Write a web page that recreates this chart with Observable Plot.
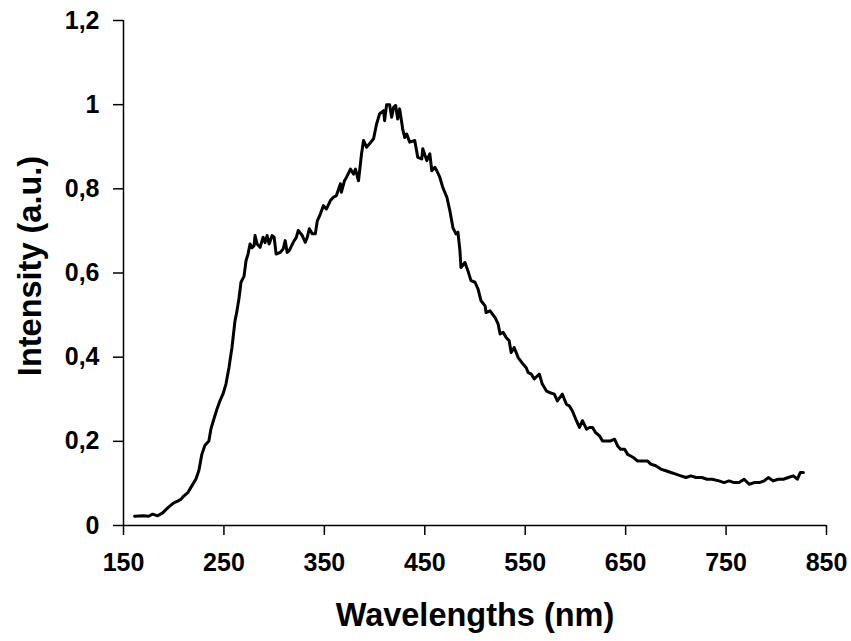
<!DOCTYPE html>
<html>
<head>
<meta charset="utf-8">
<script src="https://cdn.jsdelivr.net/npm/d3@7"></script>
<script src="https://cdn.jsdelivr.net/npm/@observablehq/plot@0.6"></script>
<style>
  html, body { margin: 0; padding: 0; background: #fff; }
  #chart { width: 851px; height: 641px; }
</style>
</head>
<body>
<div id="chart"></div>
<script>
const wavelengths = [161,170,175,179,184,189,194,200,204,207,210,214,217,222,225,228,231,235,237,240,243,246,249,252,255,258,261,263,265,267,270,272,274,276,278,280,281,283,286,289,291,293,295,298,300,302,306,309,311,313,315,319,322,324,328,331,333,335,338,341,343,346,349,352,356,359,362,366,367,370,372,376,379,381,384,387,389,392,395,399,402,405,409,410,412,415,417,419,421,423,425,428,430,432,435,440,443,447,448,452,455,457,460,462,465,468,472,475,478,481,483,485,486,490,493,496,500,503,506,510,511,515,520,523,525,528,531,534,536,539,543,548,551,553,556,559,564,567,571,574,579,582,587,591,594,597,601,604,607,611,614,617,620,624,627,630,635,639,642,645,649,652,655,658,662,667,672,675,680,685,690,695,700,705,710,715,720,726,731,736,743,748,753,758,763,768,773,778,783,788,792,797,802,807,812,817,821,824,827];
const intensities = [0.022,0.023,0.022,0.027,0.023,0.030,0.042,0.054,0.058,0.062,0.070,0.078,0.090,0.110,0.130,0.169,0.190,0.201,0.229,0.253,0.276,0.296,0.312,0.336,0.375,0.423,0.486,0.510,0.540,0.578,0.592,0.629,0.645,0.669,0.660,0.665,0.689,0.669,0.661,0.685,0.672,0.689,0.669,0.689,0.685,0.645,0.649,0.657,0.677,0.649,0.653,0.673,0.684,0.701,0.689,0.673,0.685,0.705,0.693,0.693,0.724,0.740,0.760,0.752,0.772,0.780,0.784,0.812,0.792,0.819,0.827,0.847,0.835,0.847,0.819,0.883,0.915,0.899,0.907,0.919,0.954,0.978,0.986,0.962,1.000,1.000,0.970,0.994,0.998,0.966,0.990,0.942,0.922,0.930,0.911,0.915,0.875,0.871,0.895,0.867,0.883,0.843,0.851,0.843,0.827,0.803,0.780,0.748,0.708,0.693,0.697,0.653,0.613,0.625,0.605,0.582,0.578,0.562,0.534,0.522,0.506,0.510,0.494,0.479,0.455,0.459,0.447,0.439,0.411,0.423,0.399,0.383,0.375,0.363,0.360,0.348,0.360,0.336,0.320,0.316,0.312,0.296,0.312,0.288,0.284,0.272,0.249,0.233,0.249,0.229,0.233,0.233,0.221,0.213,0.201,0.201,0.201,0.205,0.189,0.181,0.181,0.169,0.165,0.161,0.153,0.153,0.153,0.146,0.142,0.134,0.130,0.126,0.122,0.118,0.114,0.118,0.114,0.114,0.110,0.110,0.106,0.102,0.106,0.102,0.102,0.110,0.098,0.102,0.102,0.106,0.114,0.106,0.110,0.110,0.114,0.118,0.110,0.126,0.126];
const xTicks = [150, 250, 350, 450, 550, 650, 750, 850];
const yTicks = [0, 0.2, 0.4, 0.6, 0.8, 1.0, 1.2];
const yTickLabels = ["0", "0,2", "0,4", "0,6", "0,8", "1", "1,2"];
const xTitle = "Wavelengths (nm)";
const yTitle = "Intensity (a.u.)";

const data = wavelengths.map((w, i) => ({w, v: intensities[i]}));
const FONT = "'Liberation Sans', Arial, Helvetica, sans-serif";

const chart = Plot.plot({
  width: 851,
  height: 641,
  marginLeft: 123,
  marginRight: 25,
  marginTop: 20,
  marginBottom: 116,
  style: {fontFamily: FONT, color: "#000", background: "#fff"},
  x: {domain: [150, 850]},
  y: {domain: [0, 1.2]},
  marks: [
    Plot.axisX({ticks: xTicks, tickSize: 10, tickPadding: 18, fontSize: 25, fontWeight: "bold", label: null, strokeWidth: 1.5}),
    Plot.axisY({ticks: yTicks, tickSize: 10, tickPadding: 14, fontSize: 25, fontWeight: "bold", label: null, strokeWidth: 1.5,
      tickFormat: d => yTickLabels[yTicks.findIndex(t => Math.abs(t - d) < 1e-9)]}),
    Plot.ruleX([150], {stroke: "#000", strokeWidth: 1.5}),
    Plot.ruleY([0], {stroke: "#000", strokeWidth: 1.5}),
    Plot.line(data, {x: "w", y: "v", stroke: "#000", strokeWidth: 3, strokeLinejoin: "round"}),
    Plot.text([xTitle], {frameAnchor: "bottom", dy: 100, fontSize: 32.5, fontWeight: "bold", fill: "#000"}),
    Plot.text([yTitle], {frameAnchor: "left", textAnchor: "middle", dx: -93, dy: -7, rotate: -90, fontSize: 32.5, fontWeight: "bold", fill: "#000"})
  ]
});
document.getElementById("chart").appendChild(chart);
</script>
</body>
</html>
